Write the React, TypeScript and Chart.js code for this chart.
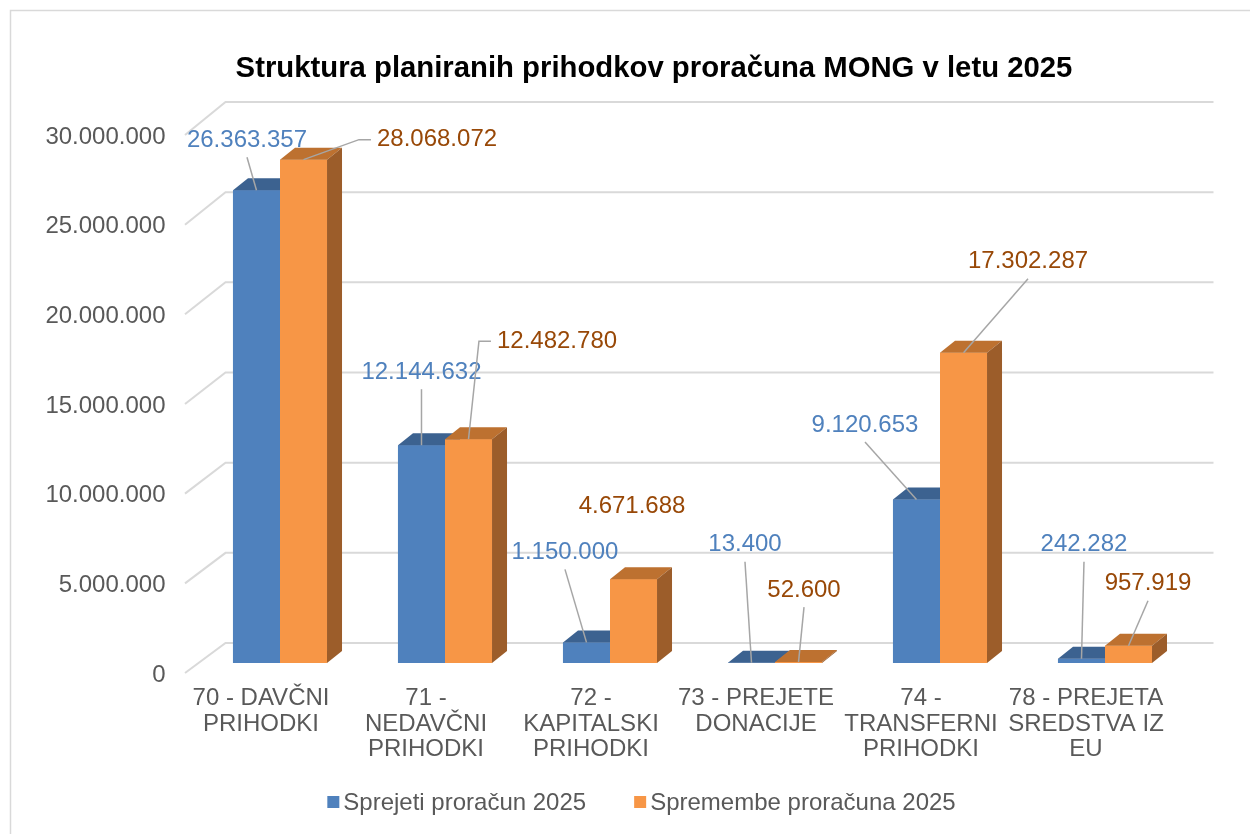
import React, { useEffect, useRef } from "react";
import { Chart, registerables } from "chart.js";

Chart.register(...registerables);

// ---------- data ----------
const categories: string[][] = [
  ["70 - DAVČNI", "PRIHODKI"],
  ["71 -", "NEDAVČNI", "PRIHODKI"],
  ["72 -", "KAPITALSKI", "PRIHODKI"],
  ["73 - PREJETE", "DONACIJE"],
  ["74 -", "TRANSFERNI", "PRIHODKI"],
  ["78 - PREJETA", "SREDSTVA IZ", "EU"],
];
const seriesNames = ["Sprejeti proračun 2025", "Spremembe proračuna 2025"];
const sprejeti = [26363357, 12144632, 1150000, 13400, 9120653, 242282];
const spremembe = [28068072, 12482780, 4671688, 52600, 17302287, 957919];
const yMin = 0;
const yMax = 30000000;
const yStep = 5000000;
const titleText = "Struktura planiranih prihodkov proračuna MONG v letu 2025";

// ---------- styles ----------
const FONT = "'Liberation Sans', Arial, sans-serif";
const frontColors = ["#4F81BD", "#F79646"];
const topColors = ["#3C6290", "#BD7130"];
const sideColors = ["#3A5E8A", "#9C5D2A"];
const labelColors = ["#4F81BD", "#984807"];
const DX = 15;
const DY = -12;
// label placement relative to the bar's top-centre: [dx, dy, leaderMode]
// leaderMode: 0 none, 1 to bottom of label, 2 elbow to left of label
const labelPlacementA: number[][] = [
  [-9.5, -50, 1],
  [0, -73, 1],
  [-21.5, -90, 1],
  [-6.5, -118, 1],
  [-51.5, -74.5, 1],
  [2.5, -114, 1],
];
const labelPlacementB: number[][] = [
  [133.5, -20, 2],
  [88.5, -98, 2],
  [-1.5, -73, 0],
  [5.5, -72, 1],
  [64.5, -91, 1],
  [19.5, -62, 1],
];

const fmt = (n: number) => String(Math.round(n)).replace(/\B(?=(\d{3})+(?!\d))/g, ".");

const framePlugin = {
  id: "frame",
  beforeDraw(chart: any) {
    const ctx = chart.ctx;
    ctx.save();
    ctx.fillStyle = "#FFFFFF";
    ctx.fillRect(0, 0, chart.width, chart.height);
    ctx.strokeStyle = "#D9D9D9";
    ctx.lineWidth = 1.5;
    ctx.strokeRect(10.5, 10.5, chart.width + 20, chart.height + 20);
    // title
    ctx.fillStyle = "#000000";
    ctx.font = `bold 29.3px ${FONT}`;
    ctx.textAlign = "center";
    ctx.textBaseline = "middle";
    ctx.fillText(titleText, 654, 69);
    ctx.restore();
  },
};

const gridPlugin = {
  id: "grid3d",
  beforeDatasetsDraw(chart: any) {
    const { ctx, chartArea, scales } = chart;
    const y = scales.y;
    const bottom = chartArea.bottom;
    ctx.save();
    ctx.strokeStyle = "#D9D9D9";
    ctx.lineWidth = 2;
    for (let v = yMin; v <= yMax; v += yStep) {
      const py = y.getPixelForValue(v);
      const backY = bottom - 20 - (bottom - py) * 1.0056;
      ctx.beginPath();
      ctx.moveTo(chartArea.left - 12.5, py + 10);
      ctx.lineTo(chartArea.left + 28, backY);
      ctx.lineTo(chartArea.right + 26, backY);
      ctx.stroke();
    }
    ctx.restore();
  },
};

// draws each series front (library element), then its top and side faces, in series order
const bars3dPlugin = {
  id: "bars3d",
  afterDatasetsDraw(chart: any) {
    const ctx = chart.ctx;
    ctx.save();
    chart.data.datasets.forEach((_d: any, i: number) => {
      const meta = chart.getDatasetMeta(i);
      meta.data.forEach((bar: any) => {
        bar.draw(ctx, chart.chartArea);
        const l = bar.x - bar.width / 2;
        const r = bar.x + bar.width / 2;
        const t = bar.y;
        const b = bar.base;
        ctx.fillStyle = topColors[i];
        ctx.beginPath();
        ctx.moveTo(l, t);
        ctx.lineTo(r, t);
        ctx.lineTo(r + DX, t + DY);
        ctx.lineTo(l + DX, t + DY);
        ctx.closePath();
        ctx.fill();
        ctx.fillStyle = sideColors[i];
        ctx.beginPath();
        ctx.moveTo(r, t);
        ctx.lineTo(r + DX, t + DY);
        ctx.lineTo(r + DX, b + DY);
        ctx.lineTo(r, b);
        ctx.closePath();
        ctx.fill();
      });
    });
    ctx.restore();
  },
};

const labelsPlugin = {
  id: "labels3d",
  afterDatasetsDraw(chart: any) {
    const ctx = chart.ctx;
    ctx.save();
    ctx.font = `24px ${FONT}`;
    ctx.textBaseline = "middle";
    ctx.textAlign = "center";
    [labelPlacementA, labelPlacementB].forEach((place, i) => {
      const meta = chart.getDatasetMeta(i);
      const values = chart.data.datasets[i].data as number[];
      meta.data.forEach((bar: any, j: number) => {
        const [dx, dy, mode] = place[j];
        const text = fmt(values[j]);
        const w = ctx.measureText(text).width;
        const tx = bar.x + dx;
        const ty = bar.y + dy;
        ctx.strokeStyle = "#A6A6A6";
        ctx.lineWidth = 1.5;
        if (mode === 1) {
          ctx.beginPath();
          ctx.moveTo(bar.x, bar.y);
          ctx.lineTo(tx, ty + 17);
          ctx.stroke();
        } else if (mode === 2) {
          const left = tx - w / 2;
          ctx.beginPath();
          ctx.moveTo(bar.x, bar.y);
          ctx.lineTo(left - 18, ty);
          ctx.lineTo(left - 6, ty);
          ctx.stroke();
        }
        ctx.fillStyle = labelColors[i];
        ctx.fillText(text, tx, ty);
      });
    });
    ctx.restore();
  },
};

const legendPlugin = {
  id: "legendCustom",
  afterDraw(chart: any) {
    const ctx = chart.ctx;
    ctx.save();
    ctx.font = `24px ${FONT}`;
    ctx.textBaseline = "middle";
    ctx.textAlign = "left";
    const box = 12;
    const gap = 4;
    const itemGap = 48;
    const names = chart.data.datasets.map((d: any) => d.label);
    const widths = names.map((n: string) => ctx.measureText(n).width);
    const total = widths.reduce((a: number, w: number) => a + box + gap + w, 0) + itemGap * (names.length - 1);
    let x = 641.5 - total / 2;
    const cy = 802;
    names.forEach((n: string, i: number) => {
      ctx.fillStyle = frontColors[i];
      ctx.fillRect(x, cy - box / 2, box, box);
      ctx.fillStyle = "#595959";
      ctx.fillText(n, x + box + gap, cy + 1);
      x += box + gap + widths[i] + itemGap;
    });
    ctx.restore();
  },
};

export default function App() {
  const ref = useRef<HTMLCanvasElement | null>(null);
  useEffect(() => {
    if (!ref.current) return;
    const chart = new Chart(ref.current, {
      type: "bar",
      data: {
        labels: categories,
        datasets: [
          {
            label: seriesNames[0],
            data: sprejeti,
            backgroundColor: frontColors[0],
            borderWidth: 0,
            barPercentage: 1,
            categoryPercentage: 0.57,
          },
          {
            label: seriesNames[1],
            data: spremembe,
            backgroundColor: frontColors[1],
            borderWidth: 0,
            barPercentage: 1,
            categoryPercentage: 0.57,
          },
        ],
      },
      options: {
        responsive: false,
        animation: false,
        layout: { padding: { left: 10, right: 62.5, top: 125, bottom: 71 } },
        plugins: {
          legend: { display: false },
          tooltip: { enabled: false },
          title: { display: false },
        },
        scales: {
          x: {
            grid: { display: false, drawTicks: false },
            border: { display: false },
            ticks: {
              color: "#595959",
              font: { family: FONT, size: 24, lineHeight: 1.06 },
              padding: 23,
              labelOffset: -19,
              maxRotation: 0,
              autoSkip: false,
            },
            afterFit: (s: any) => {
              s.height = 100;
            },
          },
          y: {
            min: yMin,
            max: yMax,
            grid: { display: false, drawTicks: false },
            border: { display: false },
            ticks: {
              stepSize: yStep,
              color: "#595959",
              font: { family: FONT, size: 24 },
              padding: 32,
              labelOffset: 12,
              callback: (v: any) => fmt(Number(v)),
            },
            afterFit: (s: any) => {
              s.width = 187.5;
            },
          },
        },
      },
      plugins: [framePlugin, gridPlugin, bars3dPlugin, labelsPlugin, legendPlugin],
    });
    return () => chart.destroy();
  }, []);
  return (
    <div style={{ position: "absolute", left: 0, top: 0, width: 1250, height: 834 }}>
      <canvas ref={ref} width={1250} height={834} />
    </div>
  );
}
